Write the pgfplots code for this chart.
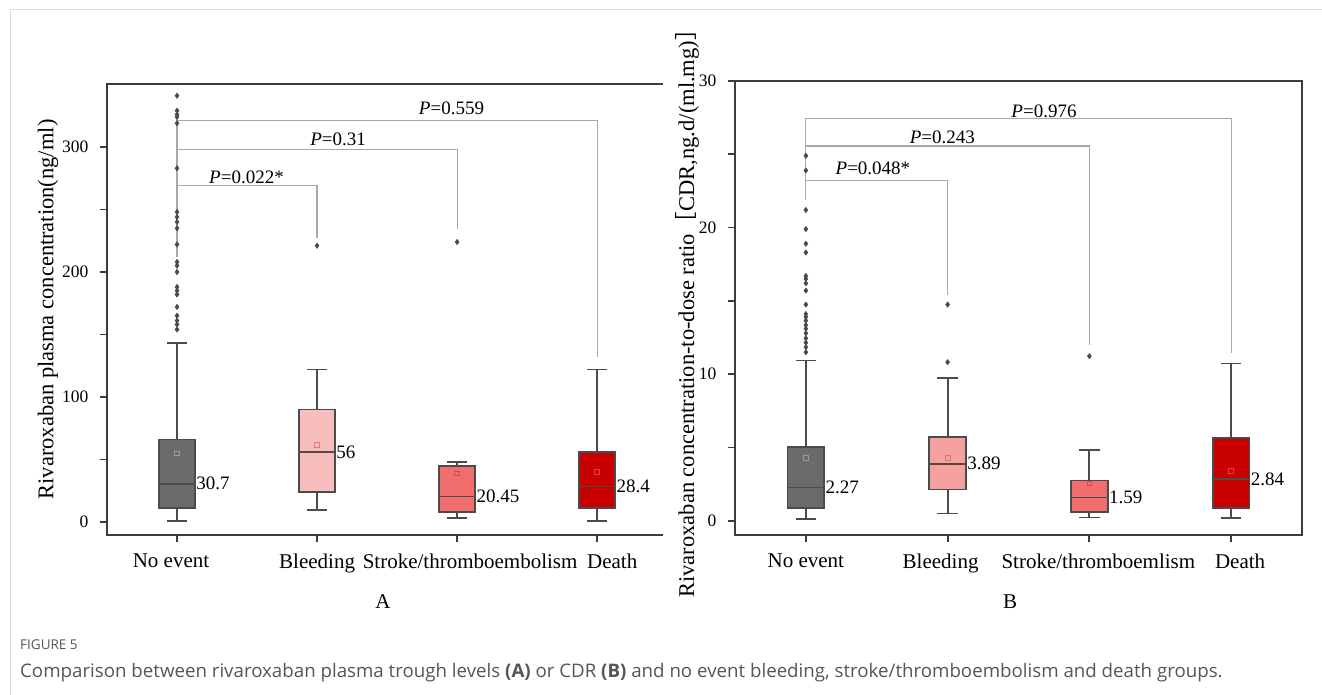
\documentclass[border=0pt]{standalone}
\usepackage{pgfplots}
\pgfplotsset{compat=1.18}
\usepackage{fontspec}
\setmainfont{Liberation Serif}
\newfontfamily\capfont{Open Sans}
\newfontfamily\cjk{Noto Sans CJK SC}
\definecolor{axiscol}{HTML}{3C3C3C}
\definecolor{edge}{HTML}{4B4B4B}
\definecolor{gfill}{HTML}{6B6B6B}
\definecolor{pinkL}{HTML}{F8BEBE}
\definecolor{pinkR}{HTML}{F6A0A0}
\definecolor{strokeC}{HTML}{F26E6E}
\definecolor{deathC}{HTML}{C80000}
\definecolor{dotc}{HTML}{4A4A4A}
\definecolor{brk}{HTML}{A8A8A8}
\definecolor{capgray}{HTML}{555555}
\definecolor{framec}{HTML}{DADADA}
\definecolor{meanG}{HTML}{9A9A9A}
\definecolor{meanB}{HTML}{E07878}
\definecolor{meanS}{HTML}{C85050}
\definecolor{meanD}{HTML}{E04040}
\newcommand{\ft}{\fontsize{21bp}{25bp}\selectfont}
\newcommand{\fy}{\fontsize{17.5bp}{21bp}\selectfont}
\newcommand{\fl}{\fontsize{22.5bp}{27bp}\selectfont}
\newcommand{\fp}{\fontsize{19bp}{23bp}\selectfont}
\newcommand{\fm}{\fontsize{19bp}{23bp}\selectfont}
\tikzset{tk/.style={draw=axiscol, line width=1.8bp}}
\pgfplotsset{
  panel/.style={
    scale only axis, clip=false,
    xmin=0.5,
    tick align=outside, tick pos=left,
    major tick length=7bp, minor tick length=7bp,
    tick style={draw=axiscol, line width=1.8bp},
    major tick style={draw=axiscol, line width=1.8bp},
    minor tick style={draw=axiscol, line width=1.8bp},
    xtick={1,2,3,4},
    xticklabel style={font=\ft, text=black, yshift=-8bp},
    yticklabel style={font=\fy, text=black, xshift=-8bp},
    /pgf/number format/assume math mode=true,
  },
  bx/.style={draw=edge, line width=1.8bp, fill=#1, mark=none},
  wl/.style={draw=edge, line width=1.8bp, mark=none},
  outl/.style={only marks, mark=diamond*, mark size=2.8bp, mark options={fill=dotc, draw=dotc, line width=0.3bp}},
  meanm/.style={only marks, mark=square, mark size=2.4bp, mark options={draw=#1, fill=none, line width=0.6bp}},
  brl/.style={brk, line width=1.2bp, mark=none},
}
\begin{document}
\begin{tikzpicture}
\path[use as bounding box] (0,0) rectangle (1322bp,695bp);
\draw[framec, line width=1bp] (10bp,0) -- (10bp,685bp) -- (1322bp,685bp);

% ---------------- Panel A ----------------
\begin{axis}[panel,
  at={(107bp,160bp)}, anchor=south west, width=556bp, height=451bp,
  xmax=4.47, ymin=-10.4, ymax=350.4,
  axis line style={draw=none},
  xticklabels={{No event\hspace*{12bp}},{Bleeding},{\hspace*{26bp}Stroke/thromboembolism},{\hspace*{30bp}Death}},
  ytick={0,100,200,300}, minor ytick={50,150,250},
  ylabel={Rivaroxaban plasma concentration(ng/ml)},
  ylabel style={font=\fl, at={(axis description cs:-0.106,0.5)}, anchor=center},
]
\draw[axiscol, line width=2bp] (rel axis cs:1,1) -- (rel axis cs:0,1) -- (rel axis cs:0,0) -- (rel axis cs:1,0);
\pgfplotsinvokeforeach{0,50,100,150,200,250,300}{\draw[tk] (axis cs:0.5,#1) -- ++(-7bp,0bp);}
\pgfplotsinvokeforeach{1,2,3,4}{\draw[tk] (axis cs:#1,-10.4) -- ++(0bp,-7bp);}
% brackets
\addplot[brl] coordinates {(1,212) (1,269) (2,269) (2,227)};
\addplot[brl] coordinates {(1,269) (1,298) (3,298) (3,234)};
\addplot[brl] coordinates {(1,298) (1,321) (4,321) (4,132)};
% No event: lw 1, q1 11, med 30.7, q3 66, uw 143
\addplot[wl] coordinates {(1,66) (1,143)};
\addplot[wl] coordinates {(1,11) (1,1)};
\addplot[wl] coordinates {(0.928,143) (1.072,143)};
\addplot[wl] coordinates {(0.928,1) (1.072,1)};
\addplot[bx=gfill] coordinates {(0.87,11) (1.13,11) (1.13,66) (0.87,66)} --cycle;
\addplot[wl] coordinates {(0.87,30.7) (1.13,30.7)};
% Bleeding: 9.4, 24, 56, 90, 122
\addplot[wl] coordinates {(2,90) (2,122)};
\addplot[wl] coordinates {(2,24) (2,9.4)};
\addplot[wl] coordinates {(1.928,122) (2.072,122)};
\addplot[wl] coordinates {(1.928,9.4) (2.072,9.4)};
\addplot[bx=pinkL] coordinates {(1.87,24) (2.13,24) (2.13,90) (1.87,90)} --cycle;
\addplot[wl] coordinates {(1.87,56) (2.13,56)};
% Stroke: 3.5, 8, 20.45, 45, 48
\addplot[wl] coordinates {(3,45) (3,48)};
\addplot[wl] coordinates {(3,8) (3,3.5)};
\addplot[wl] coordinates {(2.928,48) (3.072,48)};
\addplot[wl] coordinates {(2.928,3.5) (3.072,3.5)};
\addplot[bx=strokeC] coordinates {(2.87,8) (3.13,8) (3.13,45) (2.87,45)} --cycle;
\addplot[wl] coordinates {(2.87,20.45) (3.13,20.45)};
% Death: 1, 11, 28.4, 56, 122
\addplot[wl] coordinates {(4,56) (4,122)};
\addplot[wl] coordinates {(4,11) (4,1)};
\addplot[wl] coordinates {(3.928,122) (4.072,122)};
\addplot[wl] coordinates {(3.928,1) (4.072,1)};
\addplot[bx=deathC] coordinates {(3.87,11) (4.13,11) (4.13,56) (3.87,56)} --cycle;
\addplot[wl] coordinates {(3.87,28.4) (4.13,28.4)};
% outliers
\addplot[outl] coordinates {(1,341) (1,329) (1,326) (1,324) (1,319) (1,283) (1,248) (1,244) (1,240) (1,235) (1,222) (1,208) (1,205) (1,200) (1,188) (1,185) (1,182) (1,172) (1,165) (1,161) (1,158) (1,154)};
\addplot[outl] coordinates {(2,221) (3,224)};
% means
\addplot[meanm=meanG] coordinates {(1,55)};
\addplot[meanm=meanB] coordinates {(2,62)};
\addplot[meanm=meanS] coordinates {(3,39)};
\addplot[meanm=meanD] coordinates {(4,40)};
% medians
\node[anchor=west, inner sep=1bp, font=\fm] at (axis cs:1.13,30.7) {30.7};
\node[anchor=west, inner sep=1bp, font=\fm] at (axis cs:2.13,56) {56};
\node[anchor=west, inner sep=1bp, font=\fm] at (axis cs:3.13,20.45) {20.45};
\node[anchor=west, inner sep=1bp, font=\fm] at (axis cs:4.13,28.4) {28.4};
% p values
\node[anchor=base, inner sep=0pt, font=\fp, yshift=2bp] at (axis cs:1.496,269) {\textit{P}=0.022*};
\node[anchor=base, inner sep=0pt, font=\fp, yshift=4bp] at (axis cs:2.15,298) {\textit{P}=0.31};
\node[anchor=base, inner sep=0pt, font=\fp, yshift=6bp] at (axis cs:2.96,321) {\textit{P}=0.559};
\end{axis}

% ---------------- Panel B ----------------
\begin{axis}[panel,
  at={(735bp,160bp)}, anchor=south west, width=567bp, height=454bp,
  xmax=4.5, ymin=-0.97, ymax=30,
  axis line style={axiscol, line width=2bp},
  xticklabels={{No event},{Bleeding\hspace*{14bp}},{\hspace*{18bp}Stroke/thromboemlism},{\hspace*{18bp}Death}},
  ytick={0,10,20,30}, minor ytick={5,15,25},
  ylabel={Rivaroxaban concentration-to-dose ratio{\cjk ［}CDR,ng.d/(ml.mg){\cjk ］}},
  ylabel style={font=\fl, at={(axis description cs:-0.0847,0.5)}, anchor=center},
]
\pgfplotsinvokeforeach{0,5,10,15,20,25,30}{\draw[tk] (axis cs:0.5,#1) -- ++(-7bp,0bp);}
\pgfplotsinvokeforeach{1,2,3,4}{\draw[tk] (axis cs:#1,-0.97) -- ++(0bp,-7bp);}
\addplot[brl] coordinates {(1,21.86) (1,23.22) (2,23.22) (2,15.4)};
\addplot[brl] coordinates {(1,23.22) (1,25.56) (3,25.56) (3,11.98)};
\addplot[brl] coordinates {(1,25.56) (1,27.43) (4,27.43) (4,11.45)};
% No event: 0.1, 0.85, 2.27, 5.05, 10.93
\addplot[wl] coordinates {(1,5.05) (1,10.93)};
\addplot[wl] coordinates {(1,0.85) (1,0.1)};
\addplot[wl] coordinates {(0.928,10.93) (1.072,10.93)};
\addplot[wl] coordinates {(0.928,0.1) (1.072,0.1)};
\addplot[bx=gfill] coordinates {(0.87,0.85) (1.13,0.85) (1.13,5.05) (0.87,5.05)} --cycle;
\addplot[wl] coordinates {(0.87,2.27) (1.13,2.27)};
% Bleeding: 0.5, 2.14, 3.89, 5.69, 9.73
\addplot[wl] coordinates {(2,5.69) (2,9.73)};
\addplot[wl] coordinates {(2,2.14) (2,0.5)};
\addplot[wl] coordinates {(1.928,9.73) (2.072,9.73)};
\addplot[wl] coordinates {(1.928,0.5) (2.072,0.5)};
\addplot[bx=pinkR] coordinates {(1.87,2.14) (2.13,2.14) (2.13,5.69) (1.87,5.69)} --cycle;
\addplot[wl] coordinates {(1.87,3.89) (2.13,3.89)};
% Stroke: 0.23, 0.61, 1.59, 2.75, 4.82
\addplot[wl] coordinates {(3,2.75) (3,4.82)};
\addplot[wl] coordinates {(3,0.61) (3,0.23)};
\addplot[wl] coordinates {(2.928,4.82) (3.072,4.82)};
\addplot[wl] coordinates {(2.928,0.23) (3.072,0.23)};
\addplot[bx=strokeC] coordinates {(2.87,0.61) (3.13,0.61) (3.13,2.75) (2.87,2.75)} --cycle;
\addplot[wl] coordinates {(2.87,1.59) (3.13,1.59)};
% Death: 0.2, 0.87, 2.84, 5.64, 10.73
\addplot[wl] coordinates {(4,5.64) (4,10.73)};
\addplot[wl] coordinates {(4,0.87) (4,0.2)};
\addplot[wl] coordinates {(3.928,10.73) (4.072,10.73)};
\addplot[wl] coordinates {(3.928,0.2) (4.072,0.2)};
\addplot[bx=deathC] coordinates {(3.87,0.87) (4.13,0.87) (4.13,5.64) (3.87,5.64)} --cycle;
\addplot[wl] coordinates {(3.87,2.84) (4.13,2.84)};
\addplot[outl] coordinates {(1,24.9) (1,23.9) (1,21.2) (1,19.9) (1,18.9) (1,18.3) (1,16.7) (1,16.5) (1,16.2) (1,15.7) (1,14.75) (1,14.1) (1,13.9) (1,13.65) (1,13.35) (1,13.1) (1,12.8) (1,12.45) (1,12.15) (1,11.85) (1,11.5)};
\addplot[outl] coordinates {(2,14.75) (2,10.82) (3,11.23)};
\addplot[meanm=meanG] coordinates {(1,4.32)};
\addplot[meanm=meanB] coordinates {(2,4.32)};
\addplot[meanm=meanS] coordinates {(3,2.55)};
\addplot[meanm=meanD] coordinates {(4,3.41)};
\node[anchor=west, inner sep=1bp, font=\fm] at (axis cs:1.13,2.27) {2.27};
\node[anchor=west, inner sep=1bp, font=\fm] at (axis cs:2.13,3.89) {3.89};
\node[anchor=west, inner sep=1bp, font=\fm] at (axis cs:3.13,1.59) {1.59};
\node[anchor=west, inner sep=1bp, font=\fm] at (axis cs:4.13,2.84) {2.84};
\node[anchor=base, inner sep=0pt, font=\fp, yshift=6bp] at (axis cs:1.473,23.22) {\textit{P}=0.048*};
\node[anchor=base, inner sep=0pt, font=\fp, yshift=3bp] at (axis cs:1.963,25.56) {\textit{P}=0.243};
\node[anchor=base, inner sep=0pt, font=\fp, yshift=1bp] at (axis cs:2.68,27.43) {\textit{P}=0.976};
\end{axis}

% panel letters and caption
\node[font=\ft] at (383bp,93bp) {A};
\node[font=\ft] at (1010bp,93bp) {B};
\node[anchor=west, inner sep=0pt, text=capgray, font=\capfont\fontsize{13.5bp}{16bp}\selectfont] at (20bp,50bp) {FIGURE 5};
\node[anchor=west, inner sep=0pt, text=capgray, font=\capfont\fontsize{18.7bp}{22bp}\selectfont] at (20bp,22bp) {Comparison between rivaroxaban plasma trough levels \textbf{(A)} or CDR \textbf{(B)} and no event bleeding, stroke/thromboembolism and death groups.};
\end{tikzpicture}
\end{document}
